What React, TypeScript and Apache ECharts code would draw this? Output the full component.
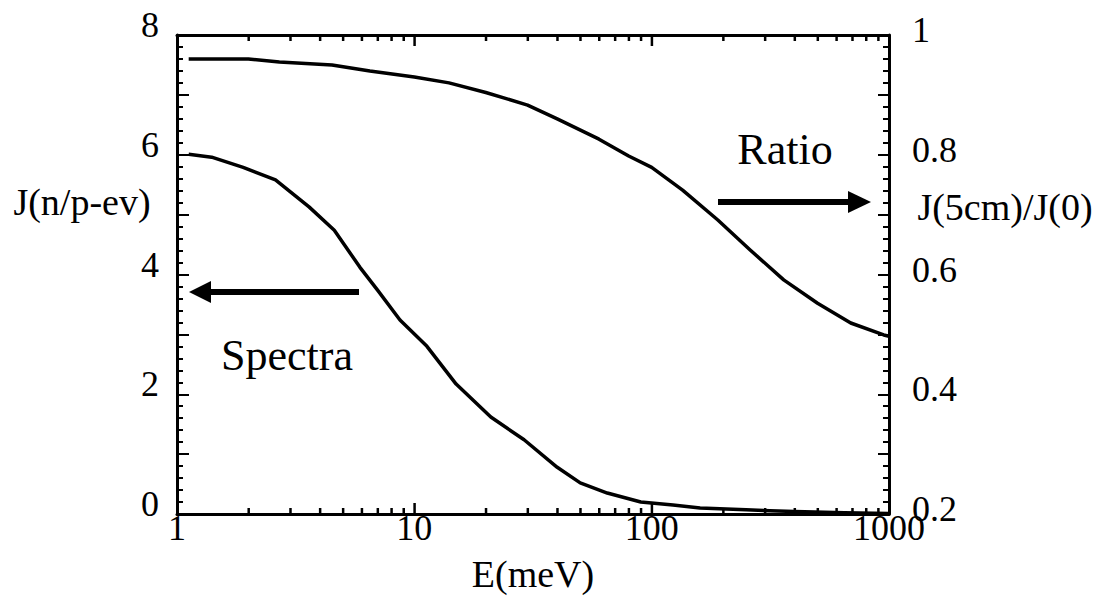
import React, { useEffect, useRef } from "react";
import * as echarts from "echarts";

const E_SPECTRA = [1.12, 1.4, 1.9, 2.6, 3.6, 4.6, 5.9, 7.0, 8.7, 11.3, 15, 21, 29, 40, 50, 65, 90, 123, 160, 250, 400, 650, 1000];
const J_SPECTRA = [6.01, 5.96, 5.79, 5.58, 5.13, 4.74, 4.12, 3.74, 3.24, 2.8, 2.17, 1.62, 1.24, 0.78, 0.52, 0.35, 0.2, 0.15, 0.1, 0.07, 0.04, 0.02, 0.01];

const E_RATIO = [1.12, 2.0, 2.7, 4.5, 6.5, 10, 14, 20, 30, 40, 60, 80, 100, 135, 190, 260, 360, 500, 690, 950, 1000];
const R_RATIO = [0.96, 0.96, 0.955, 0.95, 0.94, 0.93, 0.92, 0.904, 0.883, 0.86, 0.826, 0.798, 0.779, 0.741, 0.691, 0.641, 0.591, 0.552, 0.519, 0.499, 0.497];

const X_MINOR = [2, 3, 4, 5, 6, 7, 8, 9, 20, 30, 40, 50, 60, 70, 80, 90, 200, 300, 400, 500, 600, 700, 800, 900];
const X_MAJOR = [10, 100];
const LEFT_LABELS = [0, 2, 4, 6, 8];
const RIGHT_LABELS = ["0.2", "0.4", "0.6", "0.8", "1"];
const X_LABELS = ["1", "10", "100", "1000"];

const FONT = "Liberation Serif";

export default function App() {
  const ref = useRef<HTMLDivElement>(null);
  useEffect(() => {
    if (!ref.current) return;
    const chart = echarts.init(ref.current, null, { renderer: "svg" });
    const axisLine = { show: true, lineStyle: { color: "#000", width: 3 } };
    const tickSeries = (values: number[], yVal: number, len: number, dir: number) => ({
      type: "custom",
      coordinateSystem: "cartesian2d",
      xAxisIndex: 0,
      yAxisIndex: 0,
      silent: true,
      clip: false,
      z: 10,
      encode: { x: 0, y: 1 },
      data: values.map((v) => [v, yVal]),
      renderItem: (params: any, api: any) => {
        const p = api.coord([api.value(0), api.value(1)]);
        return {
          type: "rect",
          shape: { x: p[0] - 1, y: dir < 0 ? p[1] - len : p[1], width: 2.5, height: len },
          style: { fill: "#000" },
        };
      },
    });
    const option = {
      animation: false,
      backgroundColor: "#fff",
      grid: { left: 177, right: 215, top: 35, bottom: 82 },
      xAxis: [
        {
          type: "log",
          logBase: 10,
          min: 1,
          max: 1000,
          position: "bottom",
          axisLine: { ...axisLine, onZero: false },
          axisTick: { show: false },
          axisLabel: {
            color: "#000",
            fontFamily: FONT,
            fontSize: 36,
            margin: -4,
            formatter: (v: number) => {
              const s = String(Math.round(v));
              return X_LABELS.includes(s) ? s : "";
            },
          },
          splitLine: { show: false },
        },
        {
          type: "log",
          logBase: 10,
          min: 1,
          max: 1000,
          position: "top",
          axisLine: { ...axisLine, onZero: false },
          axisTick: { show: false },
          axisLabel: { show: false },
          splitLine: { show: false },
        },
      ],
      yAxis: [
        {
          type: "value",
          min: 0,
          max: 8,
          interval: 1,
          position: "left",
          axisLine: { ...axisLine, onZero: false },
          axisTick: { show: true, inside: true, length: 12, lineStyle: { color: "#000", width: 2 } },
          minorTick: { show: true, splitNumber: 5, length: 6, lineStyle: { color: "#000", width: 2 } },
          axisLabel: {
            color: "#000",
            fontFamily: FONT,
            fontSize: 36,
            margin: 18,
            verticalAlign: "bottom",
            lineHeight: 20,
            formatter: (v: number) => (LEFT_LABELS.includes(Math.round(v)) && Math.abs(v - Math.round(v)) < 1e-6 ? String(Math.round(v)) : ""),
          },
          splitLine: { show: false },
        },
        {
          type: "value",
          min: 0.2,
          max: 1,
          interval: 0.1,
          position: "right",
          axisLine: { ...axisLine, onZero: false },
          axisTick: { show: true, inside: true, length: 11, lineStyle: { color: "#000", width: 2 } },
          minorTick: { show: true, splitNumber: 5, length: 6, lineStyle: { color: "#000", width: 2 } },
          axisLabel: {
            color: "#000",
            fontFamily: FONT,
            fontSize: 36,
            margin: 23,
            verticalAlign: "bottom",
            lineHeight: 10,
            formatter: (v: number) => {
              const s = Math.round(v * 10) === 10 ? "1" : v.toFixed(1);
              return RIGHT_LABELS.includes(s) ? s : "";
            },
          },
          splitLine: { show: false },
        },
      ],
      series: [
        {
          name: "Spectra",
          type: "line",
          xAxisIndex: 0,
          yAxisIndex: 0,
          data: E_SPECTRA.map((e, i) => [e, J_SPECTRA[i]]),
          showSymbol: false,
          smooth: false,
          lineStyle: { color: "#000", width: 3.5, join: "round" },
          silent: true,
        },
        {
          name: "Ratio",
          type: "line",
          xAxisIndex: 0,
          yAxisIndex: 1,
          data: E_RATIO.map((e, i) => [e, R_RATIO[i]]),
          showSymbol: false,
          smooth: false,
          lineStyle: { color: "#000", width: 3.5, join: "round" },
          silent: true,
        },
        tickSeries(X_MINOR, 0, 6, -1),
        tickSeries(X_MINOR, 8, 6, 1),
        tickSeries(X_MAJOR, 0, 11, -1),
        tickSeries(X_MAJOR, 8, 11, 1),
      ],
      graphic: [
        { type: "text", x: 82, y: 202, style: { text: "J(n/p-ev)", fontFamily: FONT, fontSize: 38, fill: "#000", align: "center", verticalAlign: "middle" } },
        { type: "text", x: 1005, y: 207, style: { text: "J(5cm)/J(0)", fontFamily: FONT, fontSize: 38, fill: "#000", align: "center", verticalAlign: "middle" } },
        { type: "text", x: 533, y: 574, style: { text: "E(meV)", fontFamily: FONT, fontSize: 38, fill: "#000", align: "center", verticalAlign: "middle" } },
        { type: "text", x: 785, y: 149, style: { text: "Ratio", fontFamily: FONT, fontSize: 44, fill: "#000", align: "center", verticalAlign: "middle" } },
        { type: "text", x: 287, y: 355, style: { text: "Spectra", fontFamily: FONT, fontSize: 44, fill: "#000", align: "center", verticalAlign: "middle" } },
        { type: "line", shape: { x1: 359, y1: 292, x2: 206, y2: 292 }, style: { stroke: "#000", lineWidth: 6 } },
        { type: "polygon", shape: { points: [[189, 292], [211, 281], [211, 303]] }, style: { fill: "#000" } },
        { type: "line", shape: { x1: 718, y1: 202, x2: 852, y2: 202 }, style: { stroke: "#000", lineWidth: 6 } },
        { type: "polygon", shape: { points: [[871, 202], [848, 191], [848, 213]] }, style: { fill: "#000" } },
      ],
    };
    chart.setOption(option as any);
    return () => chart.dispose();
  }, []);
  return <div ref={ref} style={{ position: "fixed", left: 0, top: 0, width: 1104, height: 596 }} />;
}
